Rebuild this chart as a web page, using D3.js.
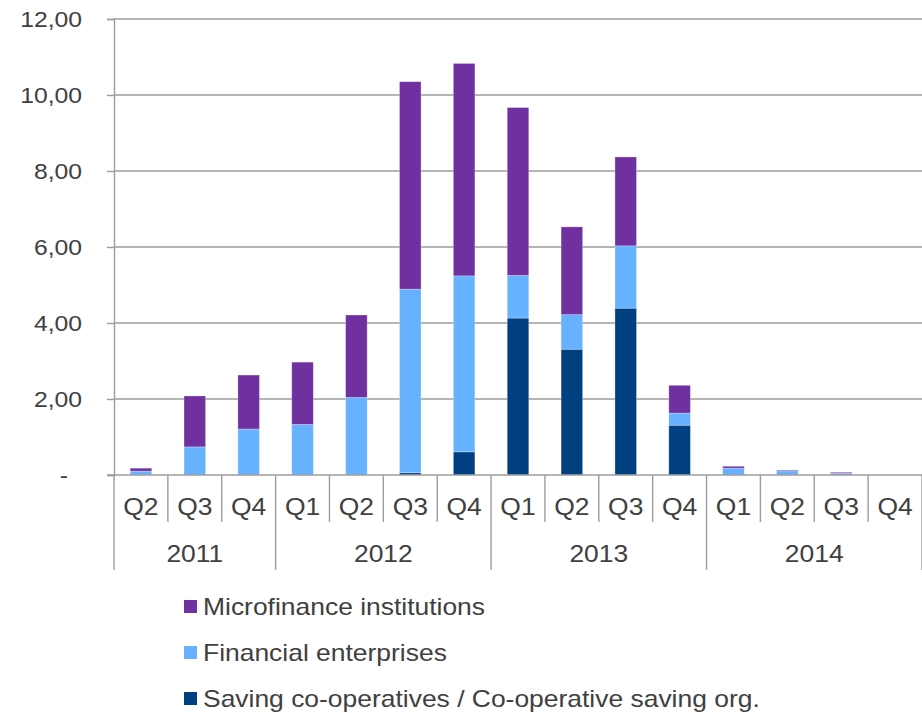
<!DOCTYPE html>
<html>
<head>
<meta charset="utf-8">
<script src="https://cdn.jsdelivr.net/npm/d3@7"></script>
<style>
  body{margin:0;background:#fff;}
  text{font-family:"Liberation Sans", Arial, sans-serif;fill:#404040;}
</style>
</head>
<body>
<div id="chart"></div>
<script>
// data
var quarters = ["Q2","Q3","Q4","Q1","Q2","Q3","Q4","Q1","Q2","Q3","Q4","Q1","Q2","Q3","Q4"];
var years = ["2011","2011","2011","2012","2012","2012","2012","2013","2013","2013","2013","2014","2014","2014","2014"];
var saving = [0,0,0,0,0,0.06,0.61,4.13,3.31,4.39,1.31,0,0,0,0];
var financial = [0.10,0.74,1.21,1.33,2.04,4.83,4.63,1.12,0.91,1.64,0.32,0.18,0.11,0.04,0];
var micro = [0.08,1.34,1.42,1.64,2.17,5.46,5.59,4.42,2.31,2.34,0.73,0.05,0.02,0.03,0];
var yTicks = [0,2,4,6,8,10,12];
var seriesNames = ["Saving co-operatives / Co-operative saving org.","Financial enterprises","Microfinance institutions"];
var seriesColors = ["#003f80","#66b2ff","#7030a0"];

var W = 922, H = 713;
var margin = {top:19, left:114, right:0, bottom:238};
var stretch = "scale(1.15,1)";

var svg = d3.select("#chart").append("svg").attr("width", W).attr("height", H);

var cats = [];
for(var i=0; i<quarters.length; i++){
  cats.push(years[i] + " " + quarters[i]);
}

var rows = cats.map(function(c, i){
  return {cat:c, saving:saving[i], financial:financial[i], micro:micro[i]};
});

var x = d3.scaleBand().domain(cats).range([margin.left, W - margin.right]).paddingInner(0.6).paddingOuter(0.3);
var y = d3.scaleLinear().domain([0,12]).range([H - margin.bottom, margin.top]);
var base = y(0);

// gridlines
svg.append("g").selectAll("line").data(yTicks.filter(function(d){return d>0;})).enter().append("line")
  .attr("x1", margin.left).attr("x2", W)
  .attr("y1", function(d){return y(d);}).attr("y2", function(d){return y(d);})
  .attr("stroke", "#9c9c9c").attr("stroke-width", 1.4);

// y axis
var yAxis = svg.append("g").attr("transform", "translate(" + margin.left + ",0)")
  .call(d3.axisLeft(y).tickValues(yTicks).tickSize(7).tickFormat(function(d){
    return d === 0 ? "-" : d3.format(".2f")(d).replace(".", ",");
  }));
yAxis.select(".domain").attr("stroke", "#9c9c9c").attr("stroke-width", 1.4);
yAxis.selectAll(".tick line").attr("stroke", "#9c9c9c").attr("stroke-width", 1.4);
yAxis.selectAll(".tick text")
  .attr("x", null).attr("dy", "0.35em")
  .attr("transform", function(d){return "translate(" + (d === 0 ? -46 : -32) + ",0) " + stretch;})
  .style("font-size", "21.5px").style("font-family", "'Liberation Sans', Arial, sans-serif").attr("fill", "#404040");

// stacked bars
var stack = d3.stack().keys(["saving","financial","micro"]);
var layers = stack(rows);

svg.append("g").selectAll("g").data(layers).enter().append("g")
  .attr("fill", function(d, i){return seriesColors[i];})
  .selectAll("rect").data(function(d){return d;}).enter().append("rect")
  .attr("x", function(d){return x(d.data.cat);})
  .attr("width", x.bandwidth())
  .attr("y", function(d){return y(d[1]);})
  .attr("height", function(d){return y(d[0]) - y(d[1]);})
  .attr("stroke", "rgba(255,255,255,0.35)").attr("stroke-width", 0.8);

// x axis baseline
svg.append("line").attr("x1", margin.left - 7).attr("x2", W)
  .attr("y1", base).attr("y2", base)
  .attr("stroke", "#9c9c9c").attr("stroke-width", 1.4);

// category separators, longer ones between years
var step = x.step();
var seps = d3.range(cats.length + 1);
svg.append("g").selectAll("line").data(seps).enter().append("line")
  .attr("x1", function(i){return margin.left + i*step;})
  .attr("x2", function(i){return margin.left + i*step;})
  .attr("y1", base)
  .attr("y2", function(i){
    var yearEdge = (i === 0 || i === cats.length || years[i] !== years[i-1]);
    return yearEdge ? 570 : 522;
  })
  .attr("stroke", "#9c9c9c").attr("stroke-width", 1.4);

// quarter labels
svg.append("g").selectAll("text").data(cats).enter().append("text")
  .attr("transform", function(d){return "translate(" + (x(d) + x.bandwidth()/2) + ",515) " + stretch;})
  .attr("text-anchor", "middle").style("font-size", "23px")
  .text(function(d, i){return quarters[i];});

// year labels
var yearList = [];
years.forEach(function(yr, i){
  var last = yearList[yearList.length - 1];
  if(!last || last.year !== yr){
    yearList.push({year:yr, first:i, last:i});
  } else {
    last.last = i;
  }
});
svg.append("g").selectAll("text").data(yearList).enter().append("text")
  .attr("transform", function(d){
    var cx = margin.left + (d.first + d.last + 1) / 2 * step;
    return "translate(" + cx + ",562) " + stretch;
  })
  .attr("text-anchor", "middle").style("font-size", "23px")
  .text(function(d){return d.year;});

// legend
var legendOrder = [2,1,0];
var legend = svg.append("g").selectAll("g").data(legendOrder).enter().append("g")
  .attr("transform", function(d, i){return "translate(184," + (606.5 + i*46) + ")";});
legend.append("rect").attr("x", 0).attr("y", -6.5).attr("width", 13).attr("height", 13)
  .attr("fill", function(d){return seriesColors[d];});
legend.append("text").attr("transform", "translate(19,8) " + stretch)
  .style("font-size", "23px")
  .text(function(d){return seriesNames[d];});
</script>
</body>
</html>
